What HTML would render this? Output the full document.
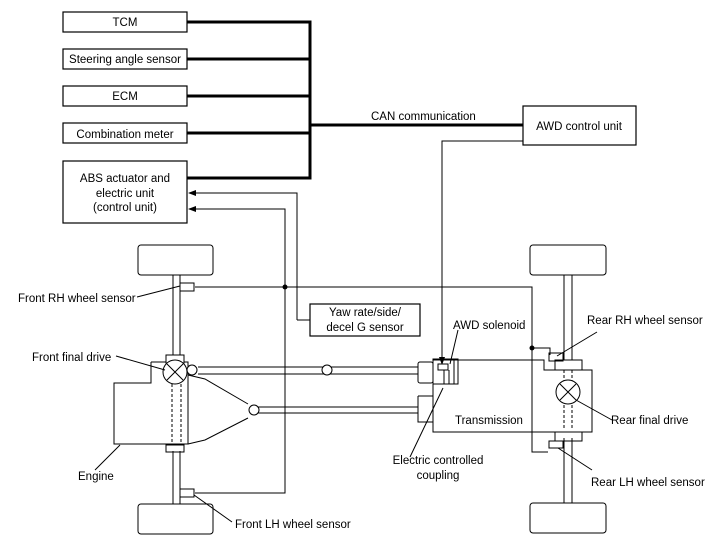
<!DOCTYPE html>
<html><head><meta charset="utf-8"><style>
html,body{margin:0;padding:0;background:#fff;}
svg{display:block;}
text{font-family:"Liberation Sans",Arial,sans-serif;font-size:11.5px;fill:#000;}
</style></head><body>
<svg width="719" height="559" viewBox="0 0 719 559" xmlns="http://www.w3.org/2000/svg">
<defs><marker id="a" markerWidth="8" markerHeight="6" refX="7" refY="3" orient="auto" markerUnits="userSpaceOnUse"><path d="M0,0 L8,3 L0,6 z" fill="#000"/></marker></defs>
<g fill="none" stroke="#000" stroke-width="1.2">
<rect x="63" y="12" width="124" height="20"/>
<rect x="63" y="49" width="124" height="20"/>
<rect x="63" y="86" width="124" height="20"/>
<rect x="63" y="123" width="124" height="20"/>
<rect x="63" y="161" width="124" height="62"/>
<rect x="523" y="106" width="113" height="39"/>
<rect x="310" y="304" width="110" height="32"/>
</g>
<g stroke="#000" stroke-width="3" fill="none">
<path d="M187,22 H310 V178 H187"/>
<path d="M187,59 H310 M187,96 H310 M187,133 H310 M310,125 H523"/>
</g>
<g fill="none" stroke="#000" stroke-width="1">
<path d="M297,320 V193 H189" marker-end="url(#a)"/>
<path d="M297,320 H310"/>
<path d="M195,493 H285 V209 H189" marker-end="url(#a)"/>
<path d="M195,287 H532 V452 H548"/>
<path d="M532,348 H550 V355"/>
<path d="M523,141 H442 V364" marker-end="url(#a)"/>
<rect x="138" y="245" width="75" height="30" rx="3"/>
<rect x="138" y="504" width="75" height="30" rx="3"/>
<rect x="530" y="245" width="76" height="30" rx="3"/>
<rect x="530" y="503" width="76" height="30" rx="3"/>
<path d="M173,275 V355 M180,275 V355 M173,451 V504 M180,451 V504"/>
<path d="M172,384 V445 M181,384 V445" stroke-dasharray="3,2"/>
<rect x="166" y="355" width="18" height="8"/>
<rect x="166" y="445" width="18" height="7"/>
<rect x="180" y="283" width="14" height="8"/>
<rect x="180" y="489" width="14" height="8"/>
<path d="M151,362 H166 M184,362 H188 V444 H114 V383 H151 V362"/>
<path d="M188,375 L205,379 L248,404 M248,418 L205,440 L188,444"/>
<circle cx="175" cy="372" r="12" fill="#fff"/>
<path d="M167,364 L183,380 M183,364 L167,380"/>
<path d="M198,367 H418 M198,374 H418"/>
<circle cx="192" cy="370" r="5" fill="#fff"/>
<circle cx="327" cy="370" r="5" fill="#fff"/>
<path d="M258,407 H418 M258,413 H418"/>
<circle cx="254" cy="410" r="5" fill="#fff"/>
<rect x="418" y="362" width="15" height="21" rx="2"/>
<path d="M418,396 H433 M418,396 V422 H433"/>
<path d="M433,359 V432 H592 V370 H555 M433,360 H544 V370 H555"/>
<rect x="433" y="359" width="25" height="25"/>
<path d="M444,370 V384 M449,370 V384 M454,359 V384"/>
<rect x="438" y="364" width="10" height="6" fill="#fff"/>
<path d="M564,275 V360 M572,275 V360 M564,438 V503 M572,438 V503"/>
<path d="M564,370 V430 M572,370 V430" stroke-dasharray="3,2"/>
<rect x="555" y="360" width="27" height="10"/>
<rect x="555" y="432" width="27" height="9"/>
<rect x="549" y="353" width="14" height="8"/>
<rect x="549" y="441" width="14" height="7"/>
<circle cx="568" cy="392" r="12" fill="#fff"/>
<path d="M560,384 L576,400 M576,384 L560,400"/>
<path d="M137,297 L180,286 M116,356 L165,370 M120,445 L95,470 M194,495 L232,522"/>
<path d="M557,356 L597,332 M576,400 L612,420 M558,448 L592,470"/>
<path d="M450,364 L458,330 M443,388 L410,457"/>
</g>
<circle cx="285" cy="287" r="2.5" fill="#000"/>
<circle cx="532" cy="348" r="2.5" fill="#000"/>
<g text-anchor="middle">
<text x="125" y="26">TCM</text>
<text x="125" y="63">Steering angle sensor</text>
<text x="125" y="100">ECM</text>
<text x="125" y="138">Combination meter</text>
<text x="125" y="182">ABS actuator and</text>
<text x="125" y="197">electric unit</text>
<text x="125" y="211">(control unit)</text>
<text x="579" y="130">AWD control unit</text>
<text x="365" y="316">Yaw rate/side/</text>
<text x="365" y="331">decel G sensor</text>
<text x="438" y="464">Electric controlled</text>
<text x="438" y="479">coupling</text>
</g>
<text x="371" y="120">CAN communication</text>
<text x="18" y="302">Front RH wheel sensor</text>
<text x="32" y="361">Front final drive</text>
<text x="78" y="480">Engine</text>
<text x="235" y="528">Front LH wheel sensor</text>
<text x="453" y="329">AWD solenoid</text>
<text x="455" y="424">Transmission</text>
<text x="587" y="324">Rear RH wheel sensor</text>
<text x="611" y="424">Rear final drive</text>
<text x="591" y="486">Rear LH wheel sensor</text>
</svg>
</body></html>
